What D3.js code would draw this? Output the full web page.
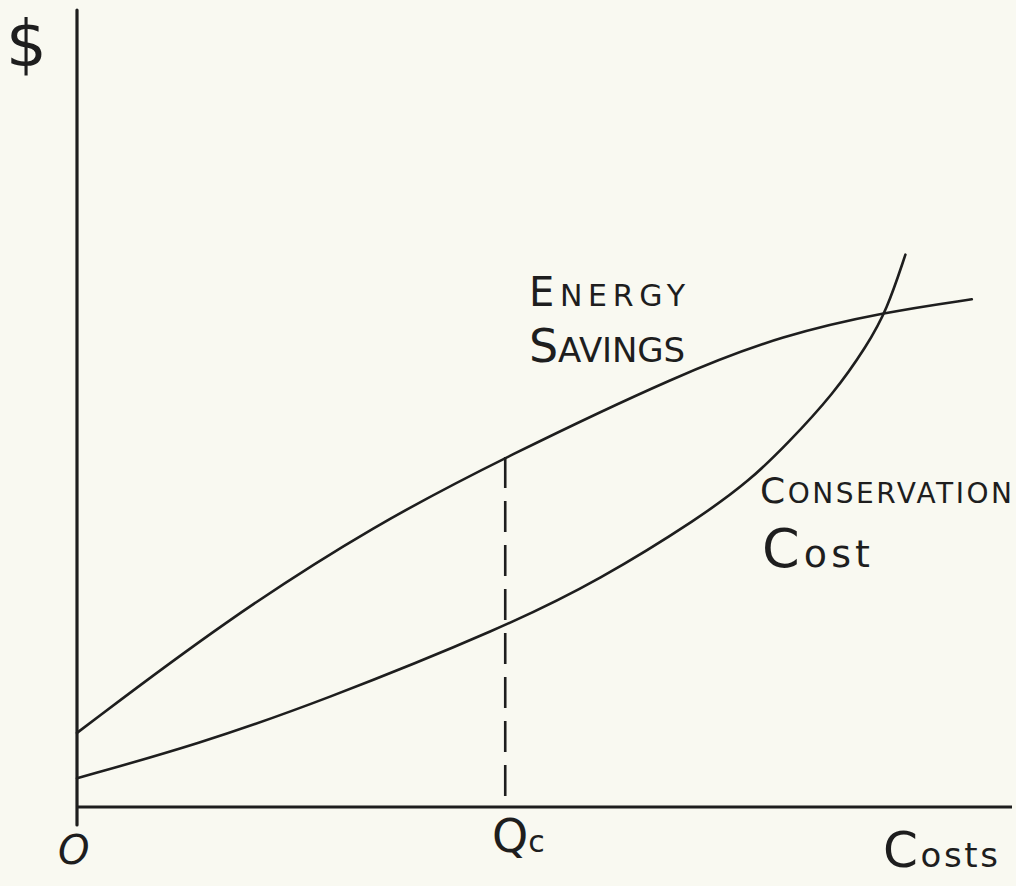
<!DOCTYPE html>
<html>
<head>
<meta charset="utf-8">
<script src="https://cdn.jsdelivr.net/npm/d3@7"></script>
<style>
  html, body { margin: 0; padding: 0; background: #f9f9f1; }
  svg { display: block; }
  .lbl { font-family: "DejaVu Sans", sans-serif; fill: #1e1e1e; }
</style>
</head>
<body>
<svg class="d3" width="1016" height="886"></svg>
<script>
// values (quantity 0..100 across, dollars 0..100 up)
var savingsQ = [0, 16, 32, 45.8, 64.8, 75.5, 86.4, 95.7];
var savingsV = [9.3, 23.5, 35.5, 43.9, 54.5, 59.2, 62.1, 63.7];

var costQ = [0, 13, 26.0, 45.8, 55.9, 66.6, 72.0, 76.0, 80.9, 84.5, 86.6, 88.6];
var costV = [3.6, 7.9, 13.2, 22.6, 28.5, 36.3, 41.0, 45.6, 51.8, 57.9, 62.3, 69.3];

var qc = 45.8;   // the marked quantity Qc

var svg = d3.select("svg.d3"),
    width = +svg.attr("width"),
    height = +svg.attr("height");

var x = d3.scaleLinear().domain([0, 100]).range([77, 1012]);
var y = d3.scaleLinear().domain([0, 100]).range([807, 10]);

var ink = "#1e1e1e";

// axes, drawn as plain strokes like the sketch
svg.append("line")
    .attr("x1", x(0)).attr("x2", x(0))
    .attr("y1", y(100)).attr("y2", y(0) + 18)
    .attr("stroke", ink).attr("stroke-width", 3.2).attr("stroke-linecap", "round");

svg.append("line")
    .attr("x1", x(0)).attr("x2", x(100))
    .attr("y1", y(0)).attr("y2", y(0))
    .attr("stroke", ink).attr("stroke-width", 3.2);

// a B-spline keeps the hand drawn strokes free of kinks
var line = d3.line()
    .x(function(d) { return x(d[0]); })
    .y(function(d) { return y(d[1]); })
    .curve(d3.curveBasis);

var savings = d3.zip(savingsQ, savingsV),
    cost = d3.zip(costQ, costV);

svg.append("path")
    .datum(savings)
    .attr("d", line)
    .attr("fill", "none")
    .attr("stroke", ink)
    .attr("stroke-width", 2.6)
    .attr("stroke-linecap", "round");

svg.append("path")
    .datum(cost)
    .attr("d", line)
    .attr("fill", "none")
    .attr("stroke", ink)
    .attr("stroke-width", 2.6)
    .attr("stroke-linecap", "round");

// dashed drop line at Qc
var qcTop = savingsV[savingsQ.indexOf(qc)];
svg.append("line")
    .attr("x1", x(qc)).attr("x2", x(qc))
    .attr("y1", y(qcTop)).attr("y2", y(0))
    .attr("stroke", ink)
    .attr("stroke-width", 2.6)
    .attr("stroke-dasharray", "31,13");

// labels
function label(px, py, parts, opts) {
  var t = svg.append("text")
      .attr("class", "lbl")
      .attr("x", px).attr("y", py);
  if (opts && opts.len) t.attr("textLength", opts.len).attr("lengthAdjust", "spacing");
  parts.forEach(function(p) {
    t.append("tspan").attr("font-size", p[1]).text(p[0]);
  });
  return t;
}

label(6, 66, [["$", 64]]);
label(58, 864, [["O", 40]]).attr("font-style", "italic");
label(492, 852, [["Q", 46], ["c", 30]]);
label(883, 867, [["C", 50], ["osts", 34]], { len: 115 });

label(529, 306, [["E", 40], ["NERGY", 30]], { len: 156 });
label(529, 362, [["S", 46], ["AVINGS", 34]], { len: 156 });

label(760, 503, [["C", 36], ["ONSERVATION", 28]], { len: 252 });
label(762, 567, [["C", 54], ["ost", 38]], { len: 108 });
</script>
</body>
</html>
